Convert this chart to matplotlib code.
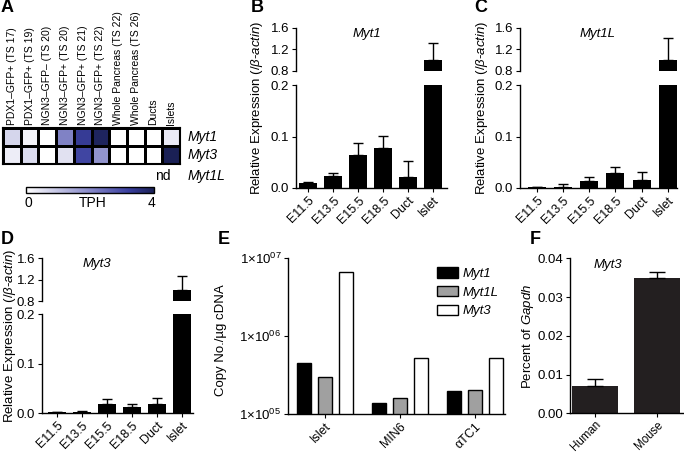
import numpy as np
import matplotlib
matplotlib.use("Agg")
import matplotlib.pyplot as plt
from matplotlib.colors import LinearSegmentedColormap, Normalize
from matplotlib.colorbar import ColorbarBase

plt.rcParams['font.family'] = ['Liberation Sans', 'DejaVu Sans']
plt.rcParams['mathtext.fontset'] = 'custom'
plt.rcParams['mathtext.rm'] = 'Liberation Sans'
plt.rcParams['mathtext.it'] = 'Liberation Sans:italic'
plt.rcParams['font.size'] = 9.5
plt.rcParams['xtick.labelsize'] = 9
plt.rcParams['axes.linewidth'] = 1
plt.rcParams['xtick.major.size'] = 3
plt.rcParams['ytick.major.size'] = 3
plt.rcParams['xtick.major.pad'] = 1.5
plt.rcParams['ytick.major.pad'] = 2

# --- data ---
# A: heatmap (TPH)
samples = ['PDX1–GFP+ (TS 17)', 'PDX1–GFP+ (TS 19)', 'NGN3–GFP– (TS 20)', 'NGN3–GFP+ (TS 20)',
           'NGN3–GFP+ (TS 21)', 'NGN3–GFP+ (TS 22)', 'Whole Pancreas (TS 22)',
           'Whole Pancreas (TS 26)', 'Ducts', 'Islets']
myt1_tph = [0.7, 0.2, 0.0, 2.1, 3.3, 3.9, 0.0, 0.0, 0.0, 0.35]
myt3_tph = [0.3, 0.6, 0.0, 0.5, 3.1, 1.8, 0.0, 0.0, 0.0, 4.0]

# B-D: qPCR relative expression
stages = ['E11.5', 'E13.5', 'E15.5', 'E18.5', 'Duct', 'Islet']
myt1_rel = [0.009, 0.023, 0.065, 0.078, 0.021, 1.0]
myt1_err = [0.002, 0.006, 0.023, 0.023, 0.032, 0.31]
myt1l_rel = [0.001, 0.001, 0.0135, 0.0295, 0.015, 1.0]
myt1l_err = [0.001, 0.007, 0.0075, 0.0115, 0.016, 0.41]
myt3_rel = [0.002, 0.003, 0.0195, 0.013, 0.018, 1.0]
myt3_err = [0.001, 0.001, 0.010, 0.005, 0.012, 0.27]

# E: copy number
lines = ['Islet', 'MIN6', 'αTC1']
copy_myt1 = [4.6e5, 1.38e5, 2.0e5]
copy_myt1l = [3.0e5, 1.6e5, 2.05e5]
copy_myt3 = [6.7e6, 5.2e5, 5.2e5]

# F: human vs mouse
species = ['Human', 'Mouse']
gapdh_pct = [0.0071, 0.0348]
gapdh_err = [0.0017, 0.0017]

W, H = 684, 454
fig = plt.figure(figsize=(W / 100, H / 100), dpi=100)


def rect(l, t, r, b):
    return [l / W, 1 - b / H, (r - l) / W, (b - t) / H]


def clean(ax):
    ax.spines['top'].set_visible(False)
    ax.spines['right'].set_visible(False)


def label(x, y, s):
    fig.text(x / W, 1 - y / H, s, fontsize=13, fontweight='bold', ha='left', va='center')


# ---------- A ----------
cmap = LinearSegmentedColormap.from_list('tph', [(0, '#ffffff'), (0.5, '#8688c8'),
                                                 (0.8, '#3a3f9f'), (1, '#1a2055')])
axa = fig.add_axes(rect(3, 128, 180, 164))
data = np.array([myt1_tph, myt3_tph])
axa.pcolormesh(data, cmap=cmap, vmin=0, vmax=4, edgecolors='black', linewidth=0.8)
axa.set_xlim(0, len(samples))
axa.set_ylim(2, 0)
axa.set_xticks([])
axa.set_yticks([])
for s in axa.spines.values():
    s.set_linewidth(1.5)
for i, s in enumerate(samples):
    axa.text(i + 0.5, -0.15, s, rotation=90, ha='center', va='bottom', fontsize=7.5)
fig.text(188 / W, 1 - 137 / H, 'Myt1', style='italic', fontsize=10, va='center')
fig.text(188 / W, 1 - 155 / H, 'Myt3', style='italic', fontsize=10, va='center')
fig.text(188 / W, 1 - 176 / H, 'Myt1L', style='italic', fontsize=10, va='center')
fig.text(163 / W, 1 - 176 / H, 'nd', fontsize=10, ha='center', va='center')
cax = fig.add_axes(rect(26, 187, 154, 193))
cb = ColorbarBase(cax, cmap=cmap, norm=Normalize(0, 4), orientation='horizontal')
cb.set_ticks([])
cb.outline.set_linewidth(1)
fig.text(28 / W, 1 - 203 / H, '0', ha='center', va='center', fontsize=10)
fig.text(93 / W, 1 - 203 / H, 'TPH', ha='center', va='center', fontsize=10)
fig.text(152 / W, 1 - 203 / H, '4', ha='center', va='center', fontsize=10)
label(1, 8, 'A')


# ---------- B, C, D ----------
def broken(xl, xr, ytop, y08, y02, y0, x0, step, vals, errs, title, tx, ylx):
    low = fig.add_axes(rect(xl, y02, xr, y0))
    up = fig.add_axes(rect(xl, ytop, xr, y08))
    x = np.arange(len(stages))
    for ax in (low, up):
        ax.bar(x, vals, 18 / step, color='black',
               yerr=[np.zeros(len(vals)), errs],
               error_kw=dict(ecolor='black', elinewidth=1, capsize=3.5, capthick=1))
        ax.set_xlim((xl - x0) / step, (xr - x0) / step)
        clean(ax)
    low.set_ylim(0, 0.2)
    low.set_yticks([0, 0.1, 0.2])
    low.set_yticklabels(['0.0', '0.1', '0.2'])
    low.set_xticks(x)
    low.set_xticklabels(stages, rotation=45, ha='right', rotation_mode='anchor')
    up.set_ylim(0.8, 1.6)
    up.set_yticks([0.8, 1.2, 1.6])
    up.set_yticklabels(['0.8', '1.2', '1.6'])
    up.spines['bottom'].set_visible(False)
    up.set_xticks([])
    fig.text(tx / W, 1 - (ytop + 6) / H, title, style='italic', ha='center', va='center')
    fig.text(ylx / W, 1 - (ytop + y0) / 2 / H,
             r'Relative Expression $\mathit{(/β}$-$\mathit{actin)}$',
             rotation=90, ha='center', va='center')


broken(296, 447, 27.7, 70.7, 85, 188, 308.3, 25, myt1_rel, myt1_err, 'Myt1', 367, 257)
label(251, 8, 'B')
broken(520, 677, 27.7, 70.7, 85, 188, 536.7, 26.2, myt1l_rel, myt1l_err, 'Myt1L', 598, 482)
label(474, 8, 'C')
broken(42, 193, 258.3, 301, 314.3, 413.3, 56.5, 25.0, myt3_rel, myt3_err, 'Myt3', 97, 10)
label(1, 240, 'D')

# ---------- E ----------
axe = fig.add_axes(rect(288.3, 258.3, 505, 414.3))
g = np.arange(len(lines))
axe.bar(g - 0.28, copy_myt1, 0.19, color='black', edgecolor='black', linewidth=1, label='Myt1')
axe.bar(g, copy_myt1l, 0.19, color='#a0a0a0', edgecolor='black', linewidth=1, label='Myt1L')
axe.bar(g + 0.28, copy_myt3, 0.19, color='white', edgecolor='black', linewidth=1, label='Myt3')
axe.set_yscale('log')
axe.set_ylim(1e5, 1e7)
axe.set_yticks([1e5, 1e6, 1e7])
axe.set_yticklabels(['1×10$^{05}$', '1×10$^{06}$', '1×10$^{07}$'])
axe.minorticks_off()
axe.set_xlim((288.3 - 325) / 75, (505 - 325) / 75)
axe.set_xticks(g)
axe.set_xticklabels(lines, rotation=45, ha='right', rotation_mode='anchor')
clean(axe)
fig.text(221 / W, 1 - 340 / H, 'Copy No./µg cDNA', rotation=90, ha='center', va='center')
axe.legend(loc='upper left', bbox_to_anchor=(437 / W, 1 - 267 / H), bbox_transform=fig.transFigure,
           frameon=False, handlelength=1.6, handleheight=0.85, handletextpad=0.35,
           borderpad=0, borderaxespad=0, labelspacing=0.45, prop={'style': 'italic', 'size': 9.5})
label(218, 240, 'E')

# ---------- F ----------
axf = fig.add_axes(rect(570, 258.3, 683, 413.3))
s = np.arange(len(species))
axf.bar(s, gapdh_pct, 0.75, color='#231f20',
        yerr=[np.zeros(2), gapdh_err],
        error_kw=dict(ecolor='black', elinewidth=1, capsize=6, capthick=1))
axf.set_xlim((570 - 595) / 62, (683 - 595) / 62)
axf.set_ylim(0, 0.04)
axf.set_yticks([0, 0.01, 0.02, 0.03, 0.04])
axf.set_yticklabels(['0.00', '0.01', '0.02', '0.03', '0.04'])
axf.set_xticks(s)
axf.set_xticklabels(species, rotation=45, ha='right', rotation_mode='anchor', fontsize=8.3)
axf.tick_params(axis='x', pad=1)
clean(axf)
fig.text(608 / W, 1 - 265 / H, 'Myt3', style='italic', ha='center', va='center')
fig.text(528 / W, 1 - 336 / H, r'Percent of $\mathit{Gapdh}$', rotation=90, ha='center', va='center')
label(530, 240, 'F')

fig.savefig('out.png', dpi=100)
